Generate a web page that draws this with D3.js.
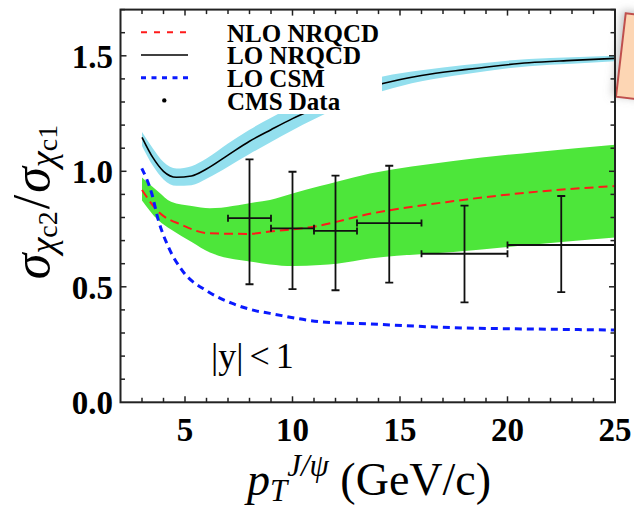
<!DOCTYPE html>
<html>
<head>
<meta charset="utf-8">
<script src="https://cdn.jsdelivr.net/npm/d3@7"></script>
<style>
  html, body { margin: 0; padding: 0; background: #fff; }
  svg { display: block; }
  text { font-family: "Liberation Serif", "Times New Roman", serif; }
</style>
</head>
<body>
<svg id="chart" width="634" height="509"></svg>
<script>
// ---- data: ratio sigma(chi_c2)/sigma(chi_c1) vs pT of the J/psi ----
const xTicks = [5, 10, 15, 20, 25];
const yTicks = [0.0, 0.5, 1.0, 1.5];

// LO NRQCD (black line + cyan band)
const loNrqcdPt  = [3.0, 3.5, 4.0, 4.6, 5.3, 6.0, 7.0, 8.0, 9.0, 10.0, 11.0, 12.0, 13.0, 14.2, 16.0, 18.0, 21.0, 23.0, 25.0];
const loNrqcd    = [1.147, 1.06, 1.0, 0.974, 0.98, 1.01, 1.07, 1.13, 1.18, 1.228, 1.27, 1.31, 1.345, 1.38, 1.415, 1.44, 1.47, 1.48, 1.489];
const loNrqcdHi  = [1.17, 1.10, 1.04, 1.012, 1.022, 1.055, 1.12, 1.18, 1.232, 1.278, 1.315, 1.35, 1.378, 1.41, 1.437, 1.46, 1.486, 1.494, 1.50];
const loNrqcdLo  = [1.11, 1.025, 0.965, 0.937, 0.94, 0.968, 1.02, 1.075, 1.127, 1.178, 1.225, 1.27, 1.31, 1.348, 1.39, 1.42, 1.455, 1.466, 1.476];

// NLO NRQCD (red dashed line + green band)
const nloPt      = [3.0, 3.76, 4.85, 6.08, 7.94, 8.95, 10.97, 13.6, 17.5, 21.4, 25.0];
const nlo        = [0.919, 0.825, 0.768, 0.732, 0.729, 0.739, 0.760, 0.816, 0.871, 0.912, 0.936];
const nloBandPt  = [3.0, 3.76, 4.35, 5.31, 6.16, 8.26, 8.95, 10.04, 11.28, 12.06, 13.6, 17.48, 21.36, 25.0];
const nloHi      = [0.973, 0.912, 0.868, 0.850, 0.840, 0.866, 0.876, 0.905, 0.936, 0.955, 0.99, 1.045, 1.084, 1.115];
const nloLo      = [0.874, 0.788, 0.748, 0.694, 0.648, 0.606, 0.597, 0.590, 0.594, 0.600, 0.622, 0.651, 0.684, 0.713];

// LO CSM (blue dashed)
const csmPt      = [2.99, 3.45, 3.76, 4.22, 4.85, 6.08, 7.17, 8.26, 8.95, 11.28, 13.6, 17.48, 21.36, 25.0];
const csm        = [1.013, 0.905, 0.789, 0.674, 0.573, 0.479, 0.429, 0.397, 0.385, 0.349, 0.339, 0.323, 0.317, 0.313];

// CMS data
const cmsPt      = [8, 10, 12, 14.5, 18, 22.5];
const cmsBinLo   = [7, 9, 11, 13, 16, 20];
const cmsBinHi   = [9, 11, 13, 16, 20, 25];
const cmsVal     = [0.797, 0.753, 0.742, 0.776, 0.643, 0.681];
const cmsErrLo   = [0.511, 0.490, 0.485, 0.518, 0.433, 0.477];
const cmsErrHi   = [1.052, 0.998, 0.981, 1.024, 0.851, 0.893];

const legendLabels = ["NLO NRQCD", "LO NRQCD", "LO CSM", "CMS Data"];

// ---- layout ----
const svg = d3.select("#chart");
const L = 120.5, R = 615, T = 9.6, B = 402.3;
const x = d3.scaleLinear().domain([2, 25]).range([L, R]);
const y = d3.scaleLinear().domain([0, 1.7]).range([B, T]);

const zip = (xs, ys) => xs.map((v, i) => [v, ys[i]]);
const zip3 = (xs, lo, hi) => xs.map((v, i) => [v, lo[i], hi[i]]);

// callout box partly visible at the right edge
const defs = svg.append("defs");
const sh = defs.append("filter").attr("id", "shadow").attr("x", "-50%").attr("y", "-50%").attr("width", "200%").attr("height", "200%");
sh.append("feDropShadow").attr("dx", -3).attr("dy", -2).attr("stdDeviation", 4).attr("flood-color", "#888").attr("flood-opacity", 0.5);
svg.append("polygon")
  .attr("points", "625.7,13.3 660,17.3 650,100.7 616,96.7")
  .attr("fill", "#fdd6b4").attr("stroke", "#c0504d").attr("stroke-width", 2)
  .attr("filter", "url(#shadow)");

defs.append("clipPath").attr("id", "plotclip")
  .append("rect").attr("x", L).attr("y", T).attr("width", R - L).attr("height", B - T);

const plot = svg.append("g").attr("clip-path", "url(#plotclip)");

const area = d3.area().x(d => x(d[0])).y0(d => y(d[1])).y1(d => y(d[2])).curve(d3.curveMonotoneX);
const line = d3.line().x(d => x(d[0])).y(d => y(d[1])).curve(d3.curveMonotoneX);

// bands
plot.append("path").datum(zip3(nloBandPt, nloLo, nloHi)).attr("d", area).attr("fill", "#4de63a");
plot.append("path").datum(zip3(loNrqcdPt, loNrqcdLo, loNrqcdHi)).attr("d", area).attr("fill", "#93dfee");

// curves
plot.append("path").datum(zip(loNrqcdPt, loNrqcd)).attr("d", line)
  .attr("fill", "none").attr("stroke", "#000").attr("stroke-width", 1.6);
plot.append("path").datum(zip(nloPt, nlo)).attr("d", line)
  .attr("fill", "none").attr("stroke", "#ff1a1a").attr("stroke-width", 2).attr("stroke-dasharray", "9,5");
plot.append("path").datum(zip(csmPt, csm)).attr("d", line)
  .attr("fill", "none").attr("stroke", "#0a1aff").attr("stroke-width", 3).attr("stroke-dasharray", "7,5");

// CMS points with error bars
const cms = cmsPt.map((p, i) => ({ p, lo: cmsBinLo[i], hi: cmsBinHi[i], v: cmsVal[i], el: cmsErrLo[i], eh: cmsErrHi[i] }));
const eb = plot.append("g").attr("stroke", "#111").attr("stroke-width", 1.8).attr("fill", "none");
cms.forEach(d => {
  eb.append("line").attr("x1", x(d.p)).attr("x2", x(d.p)).attr("y1", y(d.el)).attr("y2", y(d.eh));
  eb.append("line").attr("x1", x(d.lo)).attr("x2", x(d.hi)).attr("y1", y(d.v)).attr("y2", y(d.v));
  [d.el, d.eh].forEach(v => eb.append("line").attr("x1", x(d.p) - 4).attr("x2", x(d.p) + 4).attr("y1", y(v)).attr("y2", y(v)));
  [d.lo, d.hi].forEach(v => eb.append("line").attr("x1", x(v)).attr("x2", x(v)).attr("y1", y(d.v) - 3.5).attr("y2", y(d.v) + 3.5));
});

// legend (white backing hides the curves underneath)
svg.append("rect").attr("x", 130).attr("y", 14).attr("width", 252).attr("height", 100).attr("fill", "#fff");
const lg = svg.append("g");
const rowY = i => 32.3 + i * 22.7;
lg.append("line").attr("x1", 141).attr("x2", 188).attr("y1", rowY(0)).attr("y2", rowY(0))
  .attr("stroke", "#ff1a1a").attr("stroke-width", 2).attr("stroke-dasharray", "6,7");
lg.append("line").attr("x1", 141).attr("x2", 188).attr("y1", rowY(1)).attr("y2", rowY(1))
  .attr("stroke", "#000").attr("stroke-width", 1.6);
lg.append("line").attr("x1", 141).attr("x2", 188).attr("y1", rowY(2)).attr("y2", rowY(2))
  .attr("stroke", "#0a1aff").attr("stroke-width", 3).attr("stroke-dasharray", "5,5.5");
lg.append("circle").attr("cx", 164.3).attr("cy", rowY(3)).attr("r", 2.2).attr("fill", "#000");
legendLabels.forEach((t, i) => {
  lg.append("text").attr("x", 227).attr("y", rowY(i) + 9.3)
    .attr("font-size", 25).attr("font-weight", "bold").text(t);
});

// axes: ticks point inward on all four sides
const ax = svg.append("g").attr("stroke", "#222").attr("stroke-width", 1.5);
d3.range(3, 25.01, 1).forEach(v => {
  const len = (v % 5 === 0) ? 6 : 4.5;
  ax.append("line").attr("x1", x(v)).attr("x2", x(v)).attr("y1", B).attr("y2", B - len);
  ax.append("line").attr("x1", x(v)).attr("x2", x(v)).attr("y1", T).attr("y2", T + len);
});
d3.range(0.1, 1.71, 0.1).forEach(v => {
  const major = Math.abs(v * 2 - Math.round(v * 2)) < 1e-6;
  const len = major ? 6 : 4.5;
  ax.append("line").attr("x1", L).attr("x2", L + len).attr("y1", y(v)).attr("y2", y(v));
  ax.append("line").attr("x1", R).attr("x2", R - len).attr("y1", y(v)).attr("y2", y(v));
});
svg.append("rect").attr("x", L).attr("y", T).attr("width", R - L).attr("height", B - T)
  .attr("fill", "none").attr("stroke", "#222").attr("stroke-width", 2);

// tick labels
svg.append("g").selectAll("text").data(xTicks).join("text")
  .attr("x", d => x(d)).attr("y", 441).attr("text-anchor", "middle")
  .attr("font-size", 33).attr("font-weight", "bold").text(d => d);
svg.append("g").selectAll("text").data(yTicks).join("text")
  .attr("x", 113).attr("y", d => y(d) + 12).attr("text-anchor", "end")
  .attr("font-size", 33).attr("font-weight", "bold").text(d => d.toFixed(1));

// annotation
const ann = svg.append("text").attr("x", 211).attr("y", 368).attr("font-size", 36);
ann.append("tspan").text("|y|");
ann.append("tspan").attr("dx", 6).text("<");
ann.append("tspan").attr("dx", 6).text("1");

// x-axis title
const xt = svg.append("text").attr("x", 369).attr("y", 495).attr("text-anchor", "middle").attr("font-size", 46);
xt.append("tspan").attr("font-style", "italic").text("p");
xt.append("tspan").attr("font-style", "italic").attr("font-size", 31).attr("dy", 6).text("T");
xt.append("tspan").attr("font-style", "italic").attr("font-size", 31).attr("dy", -25).text("J/ψ");
xt.append("tspan").attr("dy", 19).text(" (GeV/c)");

// y-axis title
const yt = svg.append("text").attr("transform", "translate(49,202) rotate(-90)")
  .attr("text-anchor", "middle").attr("font-size", 52);
yt.append("tspan").attr("font-style", "italic").text("σ");
yt.append("tspan").attr("font-style", "italic").attr("font-size", 36).attr("dy", 6).text("χ");
yt.append("tspan").attr("font-size", 28).attr("dy", 2).text("c2");
yt.append("tspan").attr("dx", 2).attr("dy", -8).text("/");
yt.append("tspan").attr("dx", 2).attr("font-style", "italic").text("σ");
yt.append("tspan").attr("font-style", "italic").attr("font-size", 36).attr("dy", 6).text("χ");
yt.append("tspan").attr("font-size", 28).attr("dy", 2).text("c1");
</script>
</body>
</html>
